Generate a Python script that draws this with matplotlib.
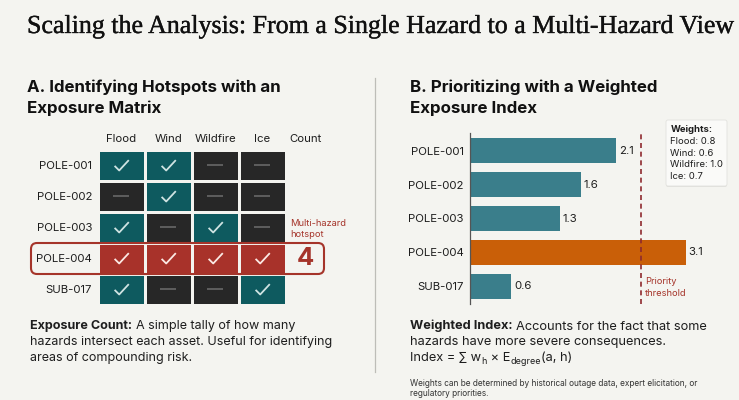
import numpy as np
import matplotlib
matplotlib.use("Agg")
import matplotlib.pyplot as plt
import matplotlib.patheffects as pe
from matplotlib.colors import ListedColormap
from matplotlib.path import Path
from matplotlib.patches import FancyBboxPatch

assets = ["POLE-001", "POLE-002", "POLE-003", "POLE-004", "SUB-017"]
hazards = ["Flood", "Wind", "Wildfire", "Ice"]
exposure = [[1, 1, 0, 0],
            [0, 1, 0, 0],
            [1, 0, 1, 0],
            [1, 1, 1, 1],
            [1, 0, 0, 1]]
index_values = [2.1, 1.6, 1.3, 3.1, 0.6]
threshold = 2.46
weights = [("Flood", "0.8"), ("Wind", "0.6"), ("Wildfire", "1.0"), ("Ice", "0.7")]

W, H = 739, 400
BG = "#F4F4F0"
INK = "#1E1E1E"
RED = "#A5342A"
SANS = ["Inter", "DejaVu Sans"]
plt.rcParams["font.family"] = SANS

fig = plt.figure(figsize=(W / 100, H / 100), dpi=100, facecolor=BG)

def px_axes(x0, y0, x1, y1, **kw):
    return fig.add_axes([x0 / W, 1 - y1 / H, (x1 - x0) / W, (y1 - y0) / H], **kw)

ov = px_axes(0, 0, W, H, zorder=5)
ov.set_xlim(0, W); ov.set_ylim(H, 0); ov.axis("off"); ov.patch.set_alpha(0)

def pt(px):
    return px * 0.72

def txt(x, y, s, size, color=INK, weight="normal", ha="left", va="center", family=None):
    return ov.text(x, y, s, fontsize=pt(size), color=color, fontweight=weight, ha=ha, va=va,
                   family=family if family else SANS)

title = txt(27, 27, "Scaling the Analysis: From a Single Hazard to a Multi-Hazard View", 25.95,
            color="#111111", family=["Liberation Serif"])
title.set_path_effects([pe.withStroke(linewidth=0.25, foreground="#111111")])
for x, l1, l2 in [(27, "A. Identifying Hotspots with an", "Exposure Matrix"),
                  (410, "B. Prioritizing with a Weighted", "Exposure Index")]:
    txt(x, 87, l1, 16.9, color="#111111", weight="bold")
    txt(x, 108, l2, 16.9, color="#111111", weight="bold")
ov.plot([375, 375], [78, 372], color="#BDBDB8", lw=0.9)

# ---- matrix ----
E = np.array(exposure)
counts = E.sum(axis=1)
state = E.copy()
state[counts == len(hazards)] = 2
axm = px_axes(98, 150, 285.5, 304.5)
cmap = ListedColormap(["#272727", "#0E5A5F", "#A8322A"])
axm.pcolormesh(state, cmap=cmap, vmin=0, vmax=2, edgecolors=BG, linewidth=0.8)
axm.set_ylim(len(assets), 0)
axm.set_xlim(0, len(hazards))
axm.axis("off")
check = Path([(-0.9, -0.05), (-0.3, -0.65), (0.95, 0.7)], [Path.MOVETO, Path.LINETO, Path.LINETO])
for r in range(E.shape[0]):
    for c in range(E.shape[1]):
        if E[r, c]:
            col = "#FBE9E4" if state[r, c] == 2 else "#CFE3E2"
            axm.plot(c + .5, r + .5, marker=check, ms=10.5, mew=1.3, mfc="none", mec=col)
        else:
            axm.plot(c + .5, r + .5, marker="_", ms=11, mew=1.4, mec="#5E5E5E")

for c, h in enumerate(hazards):
    txt(98 + 46.9 * (c + .5), 139.5, h, 11.4, ha="center")
txt(305.5, 139.5, "Count", 11.4, ha="center")
for r, a in enumerate(assets):
    txt(92, 166 + 31 * r, a, 11.4, ha="right")
ov.add_patch(FancyBboxPatch((35, 247), 285, 23, boxstyle="round,pad=4,rounding_size=6",
                            fc="none", ec=RED, lw=1.5))
txt(305.5, 258.5, str(counts[3]), 25.5, color=RED, weight="bold", ha="center")
txt(290.5, 223, "Multi-hazard", 9.3, color=RED)
txt(290.5, 234.5, "hotspot", 9.3, color=RED)

# ---- bars ----
axb = px_axes(469.5, 133, 739, 304)
colors = ["#C95F08" if v == max(index_values) else "#3A7E8B" for v in index_values]
axb.barh(assets, index_values, height=0.725, color=colors)
axb.set_ylim(4.52, -0.52)
axb.set_xlim(0, (739 - 469.5) / 69.7)
for s in ("top", "right", "bottom"):
    axb.spines[s].set_visible(False)
axb.spines["left"].set_color("#555555")
axb.spines["left"].set_linewidth(0.9)
axb.patch.set_alpha(0)
axb.set_xticks([])
axb.tick_params(axis="y", length=0, pad=4, labelsize=pt(11.4), labelcolor=INK)
for i, v in enumerate(index_values):
    axb.annotate(f"{v}", (v, i), xytext=(2, 0), textcoords="offset points", va="center",
                 fontsize=pt(11.4), color=INK)
axb.axvline(threshold, color="#8E2A2E", lw=1.2, ls=(0, (3, 2.2)))
txt(645, 282, "Priority", 9.3, color=RED)
txt(645, 293.5, "threshold", 9.3, color=RED)

# ---- weights box ----
ov.add_patch(FancyBboxPatch((668, 123), 57, 62, boxstyle="round,pad=2,rounding_size=2",
                            fc="#D9D9D5", ec="none", alpha=0.7))
ov.add_patch(FancyBboxPatch((668, 122), 57, 62, boxstyle="round,pad=2,rounding_size=2",
                            fc="#FAFAF8", ec="#E2E2DE", lw=0.6))
txt(670.5, 129.5, "Weights:", 9.5, weight="bold")
for i, (k, v) in enumerate(weights):
    txt(670.5, 141.5 + 11.7 * i, f"{k}: {v}", 9.5)

# ---- captions ----
def run(x, y, parts):
    """parts: (string, size, weight, baseline offset); each follows the one before it."""
    for s, size, weight, dy in parts:
        t = txt(x, y + dy, s, size, weight=weight, va="baseline")
        fig.canvas.draw()
        bb = t.get_window_extent().transformed(ov.transData.inverted())
        x = bb.x1 + (size * 0.28 if s.endswith(":") else 0.4)

CAP_L, CAP_R = 12.55, 12.8
run(30, 329, [("Exposure Count:", CAP_L, "bold", 0), ("A simple tally of how many", CAP_L, "normal", 0)])
txt(30, 344.5, "hazards intersect each asset. Useful for identifying", CAP_L, va="baseline")
txt(30, 360.5, "areas of compounding risk.", CAP_L, va="baseline")
run(409.5, 329.5, [("Weighted Index:", CAP_R, "bold", 0), ("Accounts for the fact that some", CAP_R, "normal", 0)])
txt(409.5, 345, "hazards have more severe consequences.", CAP_R, va="baseline")
run(409.5, 361, [("Index = ∑ w", CAP_R, "normal", 0), ("h", 9, "normal", 3), (" × E", CAP_R, "normal", 0),
                 ("degree", 9, "normal", 3), ("(a, h)", CAP_R, "normal", 0)])
txt(409.5, 383.5, "Weights can be determined by historical outage data, expert elicitation, or", 8.3, color="#333333")
txt(409.5, 394, "regulatory priorities.", 8.3, color="#333333")

fig.savefig("out.png", dpi=100, facecolor=BG)
